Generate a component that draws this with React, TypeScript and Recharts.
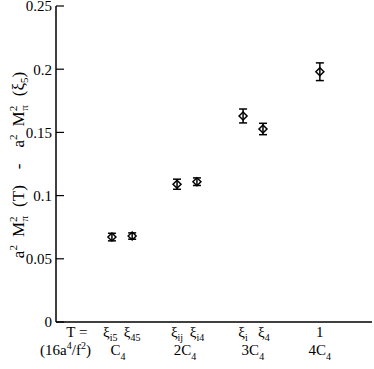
import React from 'react';
import { ScatterChart, Scatter, XAxis, YAxis, ErrorBar } from 'recharts';

// x positions are in arbitrary plot units (domain 0..10)
const pointX = [1.77, 2.41, 3.83, 4.46, 5.92, 6.55, 8.35];
const pointY = [0.0672, 0.068, 0.109, 0.111, 0.163, 0.1527, 0.198];
const pointErr = [0.003, 0.0025, 0.004, 0.003, 0.0055, 0.0045, 0.007];

// first row of labels under the axis
const rowOneX = [0.66, 1.72, 2.41, 3.83, 4.46, 5.92, 6.58, 8.35];
const rowOneMain = ['T =', 'ξ', 'ξ', 'ξ', 'ξ', 'ξ', 'ξ', '1'];
const rowOneSub = ['', 'i5', '45', 'ij', 'i4', 'i', '4', ''];

// second row: multiples of C4
const rowTwoX = [0.3, 1.96, 4.08, 6.23, 8.35];
const rowTwoMain = ['', 'C', '2C', '3C', '4C'];

const majorTicks = [0, 0.05, 0.1, 0.15, 0.2, 0.25];
const minorTicks = Array.from({ length: 26 }, (_, i) => i / 100);

const data = pointX.map((x, i) => ({ x, y: pointY[i], err: pointErr[i] }));
const xTicks = Array.from(new Set([...rowOneX, ...rowTwoX])).sort((a, b) => a - b);

const FONT = "'Liberation Serif', 'Times New Roman', Times, serif";
const textStyle = { fontFamily: FONT };

const BottomTick = (props: any) => {
  const { x, y, payload } = props;
  const v = payload.value;
  const i1 = rowOneX.indexOf(v);
  const i2 = rowTwoX.indexOf(v);
  return (
    <g style={textStyle} fill="#000">
      {i1 >= 0 && (
        <text x={x} y={y + 15} textAnchor="middle" fontSize={15} style={textStyle}>
          {rowOneMain[i1]}
          {rowOneSub[i1] && (
            <tspan fontSize={10} dy={4}>
              {rowOneSub[i1]}
            </tspan>
          )}
        </text>
      )}
      {i2 === 0 && (
        <text x={x} y={y + 33} textAnchor="middle" fontSize={15} style={textStyle}>
          (16a
          <tspan fontSize={10} dy={-6}>4</tspan>
          <tspan dy={6}>/f</tspan>
          <tspan fontSize={10} dy={-6}>2</tspan>
          <tspan dy={6}>)</tspan>
        </text>
      )}
      {i2 > 0 && (
        <text x={x} y={y + 33} textAnchor="middle" fontSize={15} style={textStyle}>
          {rowTwoMain[i2]}
          <tspan fontSize={10} dy={5}>4</tspan>
        </text>
      )}
    </g>
  );
};

const Diamond = (props: any) => {
  const { cx, cy } = props;
  const r = 4;
  return (
    <polygon
      points={`${cx},${cy - r} ${cx + r},${cy} ${cx},${cy + r} ${cx - r},${cy}`}
      fill="none"
      stroke="#000"
      strokeWidth={1.5}
    />
  );
};

// a^2 M_pi^2 (T) - a^2 M_pi^2 (xi_5), spaced like the original
const YTitle = (props: any) => {
  const vb = props.viewBox || { x: 0, y: 6, height: 316 };
  const cx = 24;
  const cy = vb.y + vb.height / 2 + 1;
  return (
    <text
      x={cx}
      y={cy}
      transform={`rotate(-90 ${cx} ${cy})`}
      textAnchor="middle"
      style={textStyle}
      fontSize={17}
      fill="#000"
    >
      a<tspan fontSize={11} dy={-7}>2</tspan>
      <tspan dx={8} dy={7}>M</tspan>
      <tspan fontSize={11} dy={-7}>2</tspan>
      <tspan fontSize={11} dx={-5} dy={11}>π</tspan>
      <tspan dx={9} dy={-4}>(T)</tspan>
      <tspan dx={16}>-</tspan>
      <tspan dx={16}>a</tspan>
      <tspan fontSize={11} dy={-7}>2</tspan>
      <tspan dx={8} dy={7}>M</tspan>
      <tspan fontSize={11} dy={-7}>2</tspan>
      <tspan fontSize={11} dx={-5} dy={11}>π</tspan>
      <tspan dx={9} dy={-4}>(ξ</tspan>
      <tspan fontSize={11} dy={4}>5</tspan>
      <tspan dy={-4}>)</tspan>
    </text>
  );
};

const axisStroke = { stroke: '#000', strokeWidth: 1.5 };
const tickStroke = { stroke: '#000', strokeWidth: 1.2 };

const App: React.FC = () => {
  return (
    <div style={{ position: 'absolute', left: 0, top: 0, background: '#fff', fontFamily: FONT }}>
      <ScatterChart width={374} height={369} margin={{ top: 6, right: 2, bottom: 0, left: 0 }}>
        <XAxis
          type="number"
          dataKey="x"
          domain={[0, 10]}
          ticks={xTicks}
          interval={0}
          tick={<BottomTick />}
          tickLine={false}
          tickSize={0}
          tickMargin={0}
          height={47}
          axisLine={axisStroke}
          allowDataOverflow
        />
        <XAxis
          xAxisId="top"
          orientation="top"
          type="number"
          domain={[0, 10]}
          tick={false}
          tickLine={false}
          height={0}
          axisLine={axisStroke}
        />
        {/* minor ticks, inside, left */}
        <YAxis
          yAxisId="lm"
          orientation="left"
          type="number"
          domain={[0, 0.25]}
          ticks={minorTicks}
          interval={0}
          tick={false}
          tickSize={-4}
          tickLine={tickStroke}
          axisLine={false}
          width={0}
        />
        <YAxis
          type="number"
          dataKey="y"
          domain={[0, 0.25]}
          ticks={majorTicks}
          interval={0}
          tick={{ fontFamily: FONT, fontSize: 15, fill: '#000' }}
          tickLine={tickStroke}
          tickSize={-8}
          tickMargin={12}
          width={56}
          axisLine={axisStroke}
          label={{ content: <YTitle /> }}
        />
        <YAxis
          yAxisId="r"
          orientation="right"
          type="number"
          domain={[0, 0.25]}
          ticks={majorTicks}
          interval={0}
          tick={false}
          tickLine={tickStroke}
          tickSize={-8}
          width={0}
          axisLine={axisStroke}
        />
        <YAxis
          yAxisId="rm"
          orientation="right"
          type="number"
          domain={[0, 0.25]}
          ticks={minorTicks}
          interval={0}
          tick={false}
          tickLine={tickStroke}
          tickSize={-4}
          width={0}
          axisLine={false}
        />
        <Scatter data={data} shape={<Diamond />} isAnimationActive={false}>
          <ErrorBar dataKey="err" direction="y" width={4} stroke="#000" strokeWidth={1.5} isAnimationActive={false} />
        </Scatter>
      </ScatterChart>
    </div>
  );
};

export default App;
